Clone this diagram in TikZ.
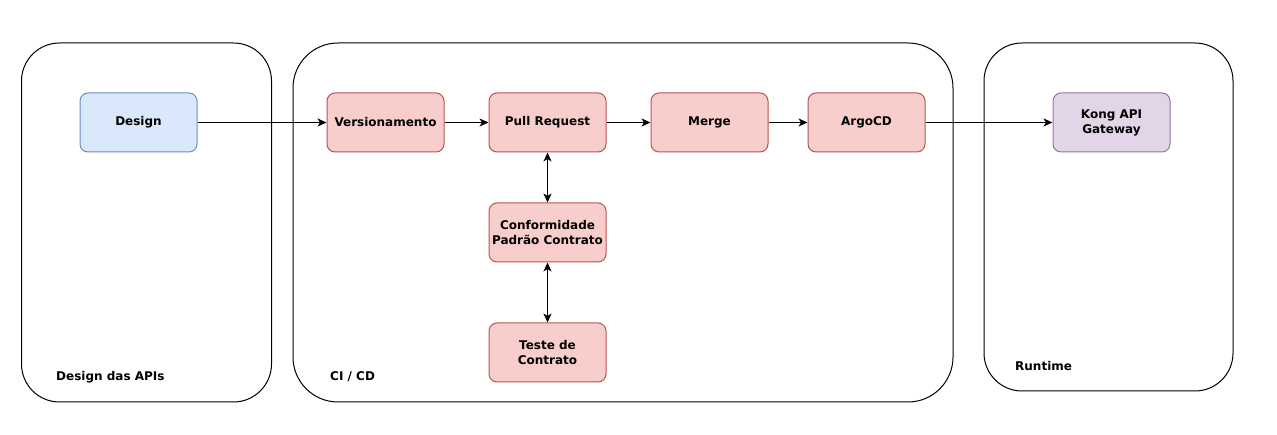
\documentclass[tikz,border=0pt]{standalone}
\usepackage{fontspec}
\setmainfont{DejaVu Sans}
\usetikzlibrary{arrows.meta,positioning}
\begin{document}
\begin{tikzpicture}[x=1pt, y=-1pt,
        font=\bfseries\fontsize{12}{15}\selectfont,
        lane/.style={draw=black, line width=1pt, rounded corners=38pt, inner sep=0pt},
        lanelbl/.style={anchor=west, inner sep=0pt},
        stepbox/.style={draw, line width=1pt, rounded corners=8pt, minimum width=117pt, minimum height=59pt, align=center, inner sep=0pt},
        redbox/.style={stepbox, fill={rgb,255:red,248;green,206;blue,204}, draw={rgb,255:red,184;green,84;blue,80}},
        flow/.style={line width=1pt, -{Stealth[length=9pt,width=8pt,inset=2.5pt]}},
        both/.style={line width=1pt, {Stealth[length=9pt,width=8pt,inset=2.5pt]}-{Stealth[length=9pt,width=8pt,inset=2.5pt]}}]
    \useasboundingbox (0, 0) rectangle (1277, 435);

    % lanes
    \node[lane, minimum width=250pt, minimum height=359pt] (designlane) at (146.5, 222.5) {};
    \node[lane, rounded corners=45pt, minimum width=660pt, minimum height=359pt] (cicdlane) at (623, 222.5) {};
    \node[lane, minimum width=249pt, minimum height=348pt] (runlane) at (1108.5, 217) {};
    \node[lanelbl] (designlbl) at (56, 377) {Design das APIs};
    \node[lanelbl] (cicdlbl) at (330, 377) {CI / CD};
    \node[lanelbl] (runlbl) at (1015, 366) {Runtime};

    % steps
    \node[stepbox, fill={rgb,255:red,218;green,232;blue,252}, draw={rgb,255:red,108;green,142;blue,191}] (design) at (138.5, 122.5) {Design};
    \node[redbox] (versao) at (385.5, 122.5) {Versionamento};
    \node[redbox] (pullreq) at (547.5, 122.5) {Pull Request};
    \node[redbox] (merge) at (709.5, 122.5) {Merge};
    \node[redbox] (argocd) at (866.5, 122.5) {ArgoCD};
    \node[stepbox, fill={rgb,255:red,225;green,213;blue,231}, draw={rgb,255:red,150;green,115;blue,166}] (kong) at (1111.5, 122.5) {Kong API\\Gateway};
    \node[redbox] (conform) at (547.5, 232.5) {Conformidade\\Padrão Contrato};
    \node[redbox] (teste) at (547.5, 352.5) {Teste de\\Contrato};

    % connectors
    \draw[flow] (design) -- (versao);
    \draw[flow] (versao) -- (pullreq);
    \draw[flow] (pullreq) -- (merge);
    \draw[flow] (merge) -- (argocd);
    \draw[flow] (argocd) -- (kong);
    \draw[both] (pullreq) -- (conform);
    \draw[both] (conform) -- (teste);
\end{tikzpicture}
\end{document}
